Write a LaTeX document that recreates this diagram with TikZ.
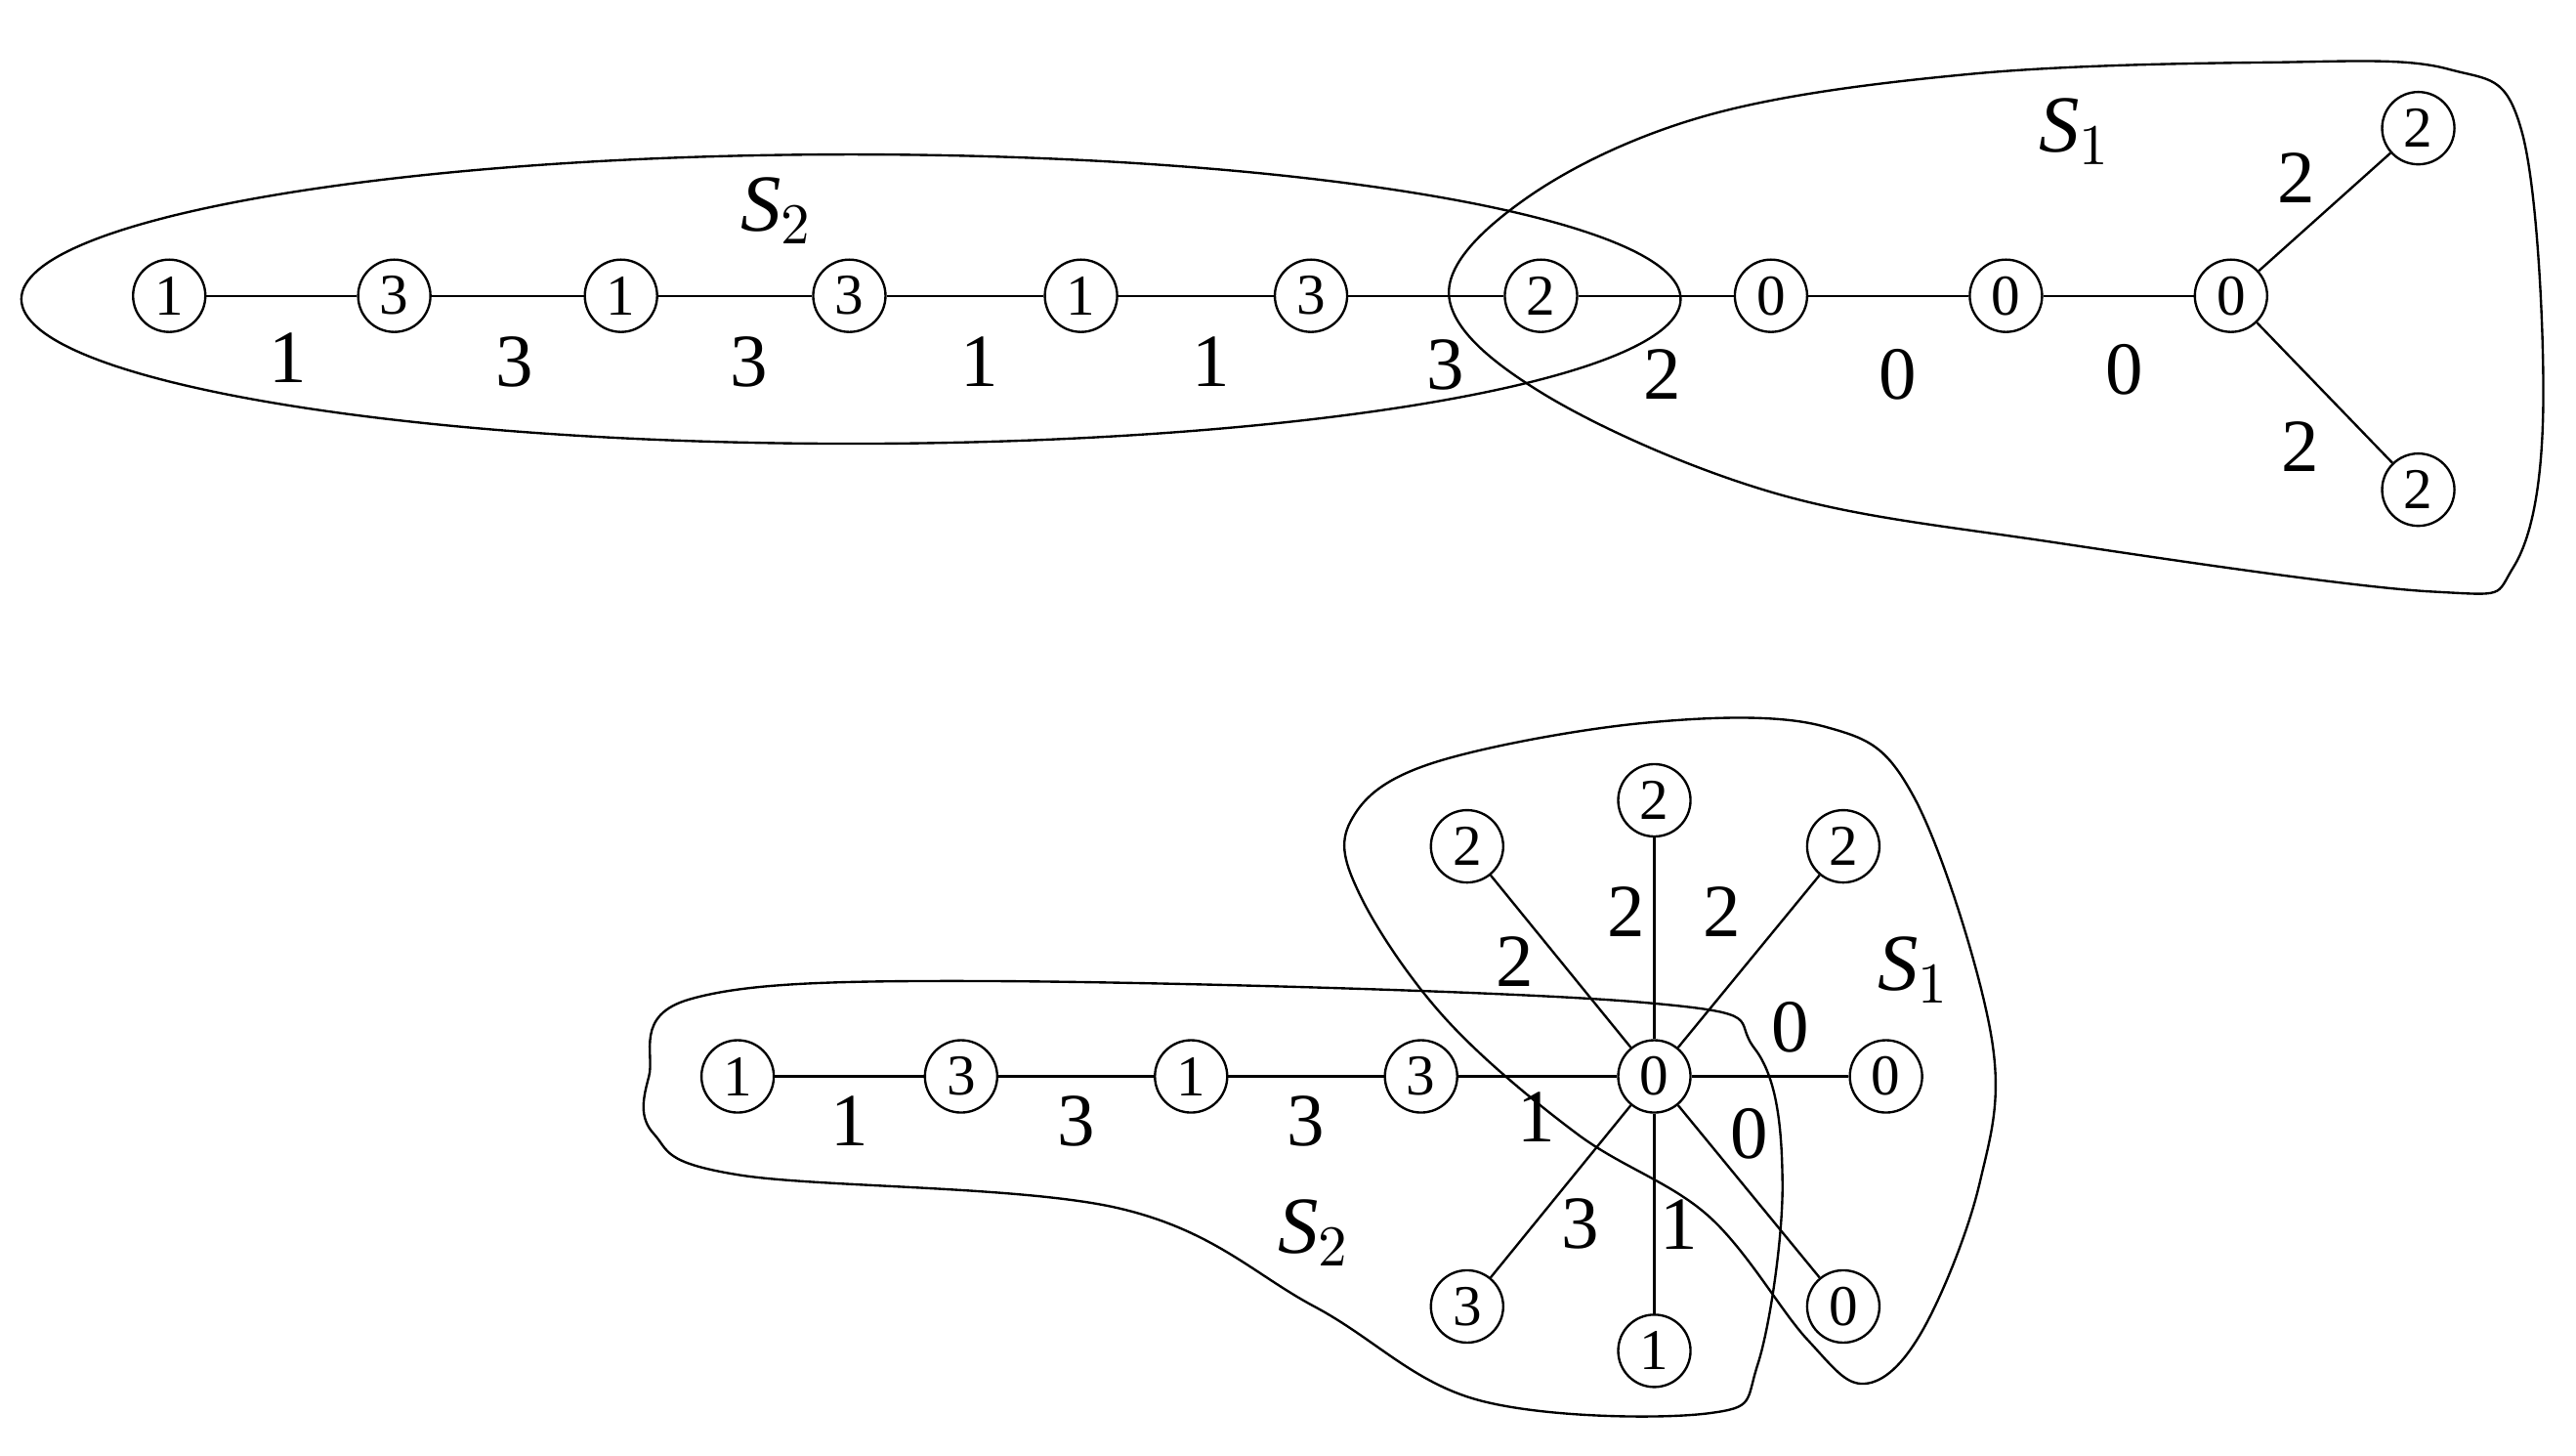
\documentclass[tikz,border=0pt]{standalone}
\usepackage{fontspec}
\setmainfont{Liberation Serif}
\begin{document}
\begin{tikzpicture}[x=0.01cm,y=-0.01cm,
 vtx/.style={circle,draw,minimum size=0.44cm,inner sep=0pt,font=\fontsize{10}{10}\selectfont},
 el/.style={font=\fontsize{13}{13}\selectfont},
 sl/.style={font=\fontsize{14}{14}\selectfont\itshape},
 blob/.style={draw,line width=0.4pt}]
\useasboundingbox (0,0) rectangle (1568,886);
% top
\foreach \n/\x/\l in {a/103/1,b/240/3,c/378/1,d/517/3,e/658/1,f/798/3,g/938/2,h/1078/0,i/1221/0,j/1358/0}
  \node[vtx] (t\n) at (\x,180) {\l};
\node[vtx] (tk) at (1472,78) {2};
\node[vtx] (tl) at (1472,298) {2};
\foreach \u/\v in {a/b,b/c,c/d,d/e,e/f,f/g,g/h,h/i,i/j,j/k,j/l} \draw (t\u)--(t\v);
\foreach \x/\y/\l [count=\k] in {175/218/1,313/220/3,456/220/3,596/220/1,737/220/1,880/222/3,1012/228/2,1155/228/0,1293/225/0,1398/108/2,1400/272/2}
  \node[el] (tlab\k) at (\x,\y) {\l};
\node[sl] (tS2) at (473,128) {S$_2$};
\node[sl] (tS1) at (1263,80) {S$_1$};
\draw[blob] (518,182) ellipse (505 and 88);
\draw[blob] plot[smooth cycle,tension=0.6] coordinates{(882,180) (930,120) (1040,70) (1200,45) (1380,38) (1490,42) (1535,80) (1548,250) (1530,345) (1480,360) (1250,330) (1080,300) (940,240)};
% bottom
\node[vtx] (c) at (1007,655) {0};
\foreach \n/\x/\y/\l in {p/449/655/1,q/585/655/3,r/725/655/1,s/865/655/3,u/893/515/2,v/1007/487/2,w/1122/515/2,x/1148/655/0,y/1122/795/0,z/1007/822/1,o/893/795/3}
  \node[vtx] (b\n) at (\x,\y) {\l};
\draw (bp)--(bq)--(br)--(bs)--(c);
\foreach \v in {u,v,w,x,y,z,o} \draw (c)--(b\v);
\foreach \x/\y/\l [count=\k] in {517/682/1,655/682/3,795/682/3,935/680/1,922/585/2,990/555/2,1048/555/2,1090/625/0,1065/690/0,1022/745/1,962/745/3}
  \node[el] (blab\k) at (\x,\y) {\l};
\node[sl] (bS2) at (800,750) {S$_2$};
\node[sl] (bS1) at (1165,590) {S$_1$};
\draw[blob] plot[smooth cycle,tension=0.6] coordinates{(395,655) (420,608) (600,597) (1000,610) (1068,638) (1085,720) (1070,830) (1040,860) (900,852) (800,795) (680,735) (450,715) (398,690)};
\draw[blob] plot[smooth cycle,tension=0.6] coordinates{(822,500) (870,465) (1000,440) (1110,442) (1165,485) (1212,630) (1205,720) (1170,810) (1135,842) (1100,815) (1040,740) (960,690) (880,620) (828,545)};
\end{tikzpicture}
\end{document}
